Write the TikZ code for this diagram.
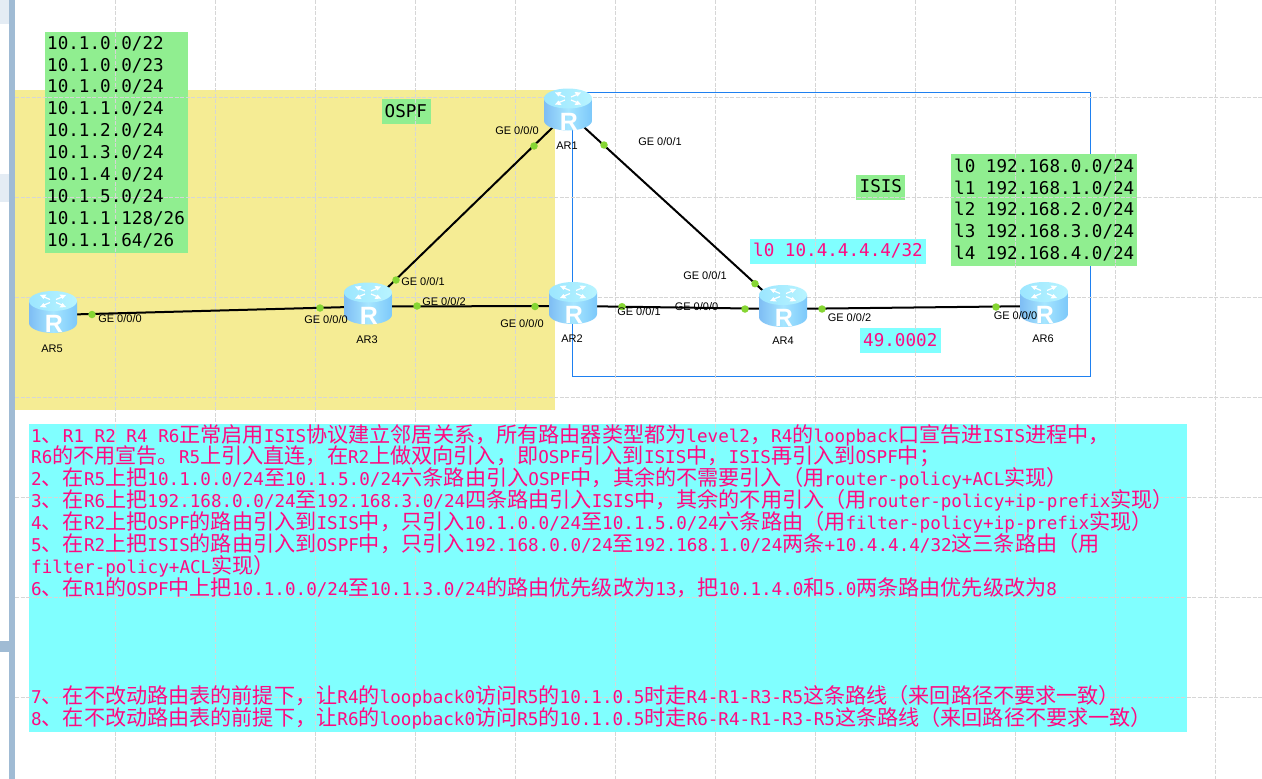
\documentclass[tikz,border=0pt]{standalone}
\usepackage{fontspec}
\setmainfont{Liberation Sans}
\newfontfamily\monof{DejaVu Sans Mono}
\newfontfamily\cjkf[Scale=1.2]{Noto Sans CJK SC}
\newcommand{\zh}[1]{{\cjkf #1}}
\pgfdeclarelayer{base}
\pgfdeclarelayer{links}
\pgfsetlayers{base,links,main}
\definecolor{padyellow}{HTML}{F5EC94}
\definecolor{padgreen}{HTML}{90EE90}
\definecolor{padcyan}{HTML}{80FFFF}
\definecolor{padpink}{HTML}{FF0A82}
\definecolor{isisblue}{HTML}{1E80F0}
\definecolor{portgreen}{HTML}{86D633}
\definecolor{chrome}{HTML}{A0BBD4}
\definecolor{chromebtn}{HTML}{E4ECF4}
\definecolor{gridgrey}{HTML}{D6D6D6}
\definecolor{rtopl}{HTML}{9CE6FF}
\definecolor{rtopr}{HTML}{B8F4FF}
\definecolor{rsidel}{HTML}{7EBDF4}
\definecolor{rsidem}{HTML}{A6E6FF}
\definecolor{rsider}{HTML}{7CC8FA}
\newcommand{\routerarrow}[2]{%
  \draw[white,line width=1.2pt] (3*#1,-14+1.5*#2) -- (9*#1,-14+4*#2);
  \fill[white] (13*#1,-14+6*#2) -- (6.5*#1,-14+6.5*#2) -- (9.5*#1,-14+2*#2) -- cycle;
}
\tikzset{
  gridline/.style={draw=gridgrey,line width=.8pt,dash pattern=on 4pt off 1.5pt},
  link/.style={draw=black,line width=2pt},
  portdot/.style={circle,fill=portgreen,inner sep=0pt,minimum size=7.5pt},
  portlabel/.style={font=\fontsize{11}{12}\selectfont,inner sep=0pt},
  routername/.style={font=\fontsize{11}{12}\selectfont,inner sep=0pt},
  monotext/.style={font=\monof\fontsize{17.6}{21.9}\selectfont,align=left,inner sep=0pt,anchor=west},
  router/.style={rectangle,inner sep=0pt,minimum width=48pt,minimum height=48pt,
    path picture={
      \begin{scope}[shift={(path picture bounding box.center)}]
        \path[left color=rsidel,right color=rsider,middle color=rsidem]
          (-24,-14) -- (-24,8) arc[start angle=180,end angle=360,x radius=24,y radius=-10] -- (24,-14) -- cycle;
        \path[left color=rtopl,right color=rtopr]
          (0,-14) ellipse[x radius=24,y radius=10];
        \routerarrow{1}{1}
        \routerarrow{1}{-1}
        \routerarrow{-1}{1}
        \routerarrow{-1}{-1}
        \node[text=white,font=\bfseries\fontsize{25}{25}\selectfont,inner sep=0pt] at (1,9) {R};
      \end{scope}
    }},
}
\begin{document}
\begin{tikzpicture}[x=1pt,y=-1pt]
\useasboundingbox (0,0) rectangle (1262,779);
\begin{pgfonlayer}{base}
  \fill[white] (0,0) rectangle (1262,779);
  % window chrome
  \fill[chromebtn] (0,0) rectangle (9,24);
  \fill[chromebtn] (0,174) rectangle (9,202);
  \fill[chrome] (0,641) rectangle (9,652);
  \fill[chrome] (9,0) rectangle (15,779);
  % areas
  \fill[padyellow] (15,90) rectangle (555,410);
  \draw[isisblue,line width=1.2pt] (572.7,92.7) rectangle (1090.3,376.7);
  \fill[padgreen] (44.5,32) rectangle (188,253);
  \fill[padgreen] (382,99) rectangle (431,123.5);
  \fill[padgreen] (856,175) rectangle (905,200);
  \fill[padgreen] (951,154) rectangle (1137,266);
  \fill[padcyan] (750,239) rectangle (926,264);
  \fill[padcyan] (860,328) rectangle (941,353);
  \fill[padcyan] (29,424) rectangle (1187,732);
  % grid
  \foreach \x in {115.5,215.5,...,1215.5} \draw[gridline] (\x,0) -- (\x,779);
  \foreach \y in {97.5,197.5,...,697.5} \draw[gridline] (15,\y) -- (1262,\y);
\end{pgfonlayer}

\node[router] (AR1) at (568,112.5) {};
\node[router] (AR2) at (573,306) {};
\node[router] (AR3) at (368,306.5) {};
\node[router] (AR4) at (783,309) {};
\node[router] (AR5) at (53,315) {};
\node[router] (AR6) at (1044,306) {};

\begin{pgfonlayer}{links}
  \draw[link] (AR5.center) -- (AR3.center);
  \draw[link] (AR3.center) -- (AR2.center);
  \draw[link] (AR3.center) -- (AR1.center);
  \draw[link] (AR1.center) -- (AR4.center);
  \draw[link] (AR2.center) -- (AR4.center);
  \draw[link] (AR4.center) -- (AR6.center);
\end{pgfonlayer}

\node[routername] (nAR1) at (567,146) {AR1};
\node[routername] (nAR2) at (572,339) {AR2};
\node[routername] (nAR3) at (367,340) {AR3};
\node[routername] (nAR4) at (783,341) {AR4};
\node[routername] (nAR5) at (52,349) {AR5};
\node[routername] (nAR6) at (1043,339) {AR6};

\node[portdot] (p51) at (92,314.5) {};
\node[portdot] (p30) at (320,308) {};
\node[portdot] (p31) at (396,280) {};
\node[portdot] (p32) at (417,306) {};
\node[portdot] (p20) at (535,306.5) {};
\node[portdot] (p21) at (622,306.7) {};
\node[portdot] (p40) at (745,309) {};
\node[portdot] (p41) at (755,283.7) {};
\node[portdot] (p42) at (822,309) {};
\node[portdot] (p60) at (996,307) {};
\node[portdot] (p10) at (534,146) {};
\node[portdot] (p11) at (604,145) {};

\node[portlabel] (l51) at (120,319) {GE 0/0/0};
\node[portlabel] (l30) at (326,320) {GE 0/0/0};
\node[portlabel] (l31) at (423,282) {GE 0/0/1};
\node[portlabel] (l32) at (444,302) {GE 0/0/2};
\node[portlabel] (l20) at (522,324) {GE 0/0/0};
\node[portlabel] (l21) at (639,312) {GE 0/0/1};
\node[portlabel] (l40) at (696.5,307) {GE 0/0/0};
\node[portlabel] (l41) at (705,276) {GE 0/0/1};
\node[portlabel] (l42) at (849.5,318) {GE 0/0/2};
\node[portlabel] (l60) at (1015.5,316) {GE 0/0/0};
\node[portlabel] (l10) at (517,131) {GE 0/0/0};
\node[portlabel] (l11) at (660,142) {GE 0/0/1};

\node[monotext] (nets) at (47,142) {10.1.0.0/22\\10.1.0.0/23\\10.1.0.0/24\\10.1.1.0/24\\10.1.2.0/24\\10.1.3.0/24\\10.1.4.0/24\\10.1.5.0/24\\10.1.1.128/26\\10.1.1.64/26};
\node[monotext] (ospf) at (384.5,111) {OSPF};
\node[monotext] (isis) at (859.5,186) {ISIS};
\node[monotext] (loops) at (954,210) {l0 192.168.0.0/24\\l1 192.168.1.0/24\\l2 192.168.2.0/24\\l3 192.168.3.0/24\\l4 192.168.4.0/24};
\node[monotext,text=padpink] (lo4) at (753,251) {l0 10.4.4.4.4/32};
\node[monotext,text=padpink] (area) at (863,340) {49.0002};
\node[monotext,text=padpink] (task) at (31,576.5) {%
1\zh{、}R1 R2 R4 R6\zh{正常启用}ISIS\zh{协议建立邻居关系，所有路由器类型都为}level2\zh{，}R4\zh{的}loopback\zh{口宣告进}ISIS\zh{进程中，}\\
R6\zh{的不用宣告。}R5\zh{上引入直连，在}R2\zh{上做双向引入，即}OSPF\zh{引入到}ISIS\zh{中，}ISIS\zh{再引入到}OSPF\zh{中；}\\
2\zh{、在}R5\zh{上把}10.1.0.0/24\zh{至}10.1.5.0/24\zh{六条路由引入}OSPF\zh{中，其余的不需要引入（用}router-policy+ACL\zh{实现）}\\
3\zh{、在}R6\zh{上把}192.168.0.0/24\zh{至}192.168.3.0/24\zh{四条路由引入}ISIS\zh{中，其余的不用引入（用}router-policy+ip-prefix\zh{实现）}\\
4\zh{、在}R2\zh{上把}OSPF\zh{的路由引入到}ISIS\zh{中，只引入}10.1.0.0/24\zh{至}10.1.5.0/24\zh{六条路由（用}filter-policy+ip-prefix\zh{实现）}\\
5\zh{、在}R2\zh{上把}ISIS\zh{的路由引入到}OSPF\zh{中，只引入}192.168.0.0/24\zh{至}192.168.1.0/24\zh{两条}+10.4.4.4/32\zh{这三条路由（用}\\
filter-policy+ACL\zh{实现）}\\
6\zh{、在}R1\zh{的}OSPF\zh{中上把}10.1.0.0/24\zh{至}10.1.3.0/24\zh{的路由优先级改为}13\zh{，把}10.1.4.0\zh{和}5.0\zh{两条路由优先级改为}8\\[86pt]
7\zh{、在不改动路由表的前提下，让}R4\zh{的}loopback0\zh{访问}R5\zh{的}10.1.0.5\zh{时走}R4-R1-R3-R5\zh{这条路线（来回路径不要求一致）}\\
8\zh{、在不改动路由表的前提下，让}R6\zh{的}loopback0\zh{访问}R5\zh{的}10.1.0.5\zh{时走}R6-R4-R1-R3-R5\zh{这条路线（来回路径不要求一致）}};
\end{tikzpicture}
\end{document}
